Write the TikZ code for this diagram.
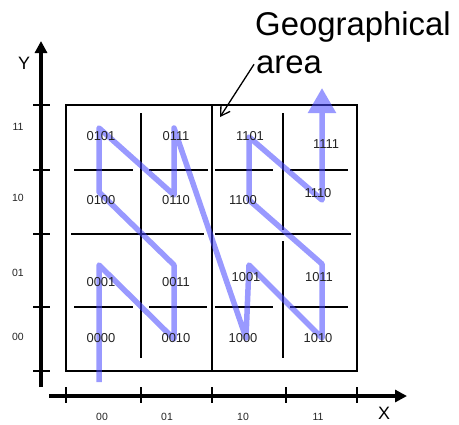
\documentclass[tikz,border=0pt]{standalone}
\usepackage{fontspec}
\setmainfont{Liberation Sans}
\usetikzlibrary{arrows.meta}
\definecolor{zblue}{RGB}{70,70,255}
\definecolor{inkgray}{RGB}{35,35,35}

\begin{document}
\begin{tikzpicture}[
  x=1bp, y=-1bp,
  axis/.style={line width=4bp, -{Triangle[length=12bp,width=12bp]}},
  tickmark/.style={line width=2bp},
  region/.style={line width=1.5bp},
  divider/.style={line width=2bp},
  zcurve/.style={draw=zblue, line width=5.5bp, line join=round,
    -{Triangle[length=25bp,width=27bp]}},
  pointer/.style={line width=1.3bp, -{Straight Barb[length=9bp,width=11bp]}},
  code/.style={font=\fontsize{13}{13}\selectfont, text=inkgray, inner sep=0pt},
  axlabel/.style={font=\fontsize{10.5}{10.5}\selectfont, text=inkgray, inner sep=0pt},
  axname/.style={font=\fontsize{18}{18}\selectfont, inner sep=0pt},
  title/.style={font=\fontsize{33}{33}\selectfont, inner sep=0pt, anchor=base west}
]
\useasboundingbox (0,0) rectangle (459,424);

% axes
\draw[axis] (41,387) -- (41,41);
\draw[axis] (49,396) -- (407,396);
\foreach \ty in {105,170,234,307,371}
  \draw[tickmark] (33,\ty) -- (50,\ty);
\foreach \tx in {66,141,212,286,357}
  \draw[tickmark] (\tx,387) -- (\tx,403);
\node[axname] (yname) at (24,63) {Y};
\node[axname] (xname) at (384,413) {X};
\foreach \lab/\ty in {11/127,10/198,01/273,00/337}
  \node[axlabel] (y\lab) at (18,\ty) {\lab};
\foreach \lab/\tx in {00/102,01/167,10/243,11/318}
  \node[axlabel] (x\lab) at (\tx,417) {\lab};

% geographical area and its quadrants
\draw[region] (66,105) rectangle (357,371);
\draw[divider] (212,105) -- (212,371);
\draw[divider] (71,234) -- (204,234) (215,234) -- (351,234);
\draw[divider] (141,113) -- (141,358);
\draw[divider] (74,170) -- (133,170) (149,170) -- (208,170);
\draw[divider] (74,307) -- (133,307) (149,307) -- (207,307);
\draw[divider] (283,113) -- (283,230) (283,241) -- (283,358);
\draw[divider] (215,170) -- (273,170) (290,170) -- (348,170);
\draw[divider] (215,307) -- (273,307) (290,307) -- (348,307);

% z-order curve
\coordinate (z0) at (99,382);
\coordinate (z1) at (99,265);
\coordinate (z2) at (174,339);
\coordinate (z3) at (174,265);
\coordinate (z4) at (99,192);
\coordinate (z5) at (99,128);
\coordinate (z6) at (174,195);
\coordinate (z7) at (174,128);
\coordinate (z8) at (246,338);
\coordinate (z9) at (249,265);
\coordinate (z10) at (322,338);
\coordinate (z11) at (322,264);
\coordinate (z12) at (249,200);
\coordinate (z13) at (249,137);
\coordinate (z14) at (322,200);
\coordinate (z15) at (322,88);
\begin{scope}[transparency group, opacity=.55]
\draw[zcurve] (z0) -- (z1) -- (z2) -- (z3) -- (z4) -- (z5) -- (z6) -- (z7)
  -- (z8) -- (z9) -- (z10) -- (z11) -- (z12) -- (z13) -- (z14) -- (z15);
\end{scope}

% cell codes
\foreach \cell/\cx/\cy in {0101/101/136,0111/176/136,1101/250/136,1111/326/144,
    0100/101/200,0110/176/200,1100/243/200,1110/318/193,
    0001/101/282,0011/176/282,1001/246/277,1011/319/277,
    0000/101/338,0010/176/338,1000/243/338,1010/318/338}
  \node[code] (c\cell) at (\cx,\cy) {\cell};

\node[title] (geo) at (255,35) {Geographical};
\node[title] (area) at (256,73) {area};
\coordinate (areatip) at (220,117);
\draw[pointer] ([xshift=-2bp]area.west) -- (areatip);
\end{tikzpicture}
\end{document}
